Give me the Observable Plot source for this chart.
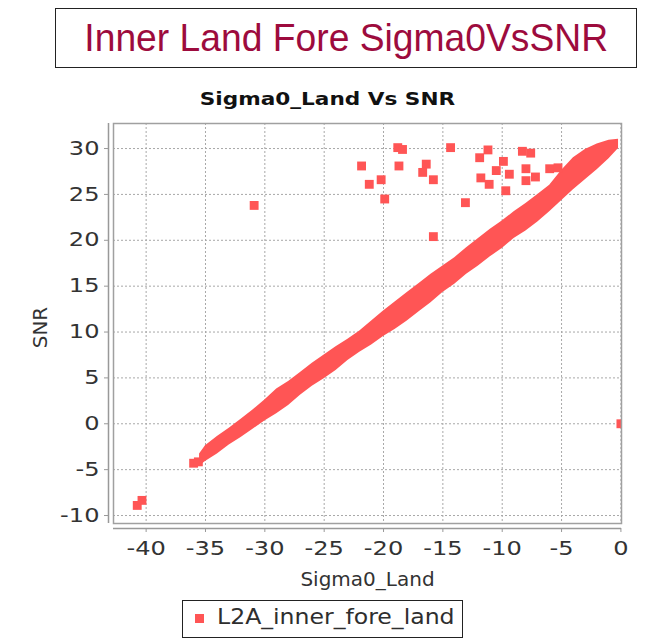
<!DOCTYPE html>
<html>
<head>
<meta charset="utf-8">
<script src="https://cdn.jsdelivr.net/npm/d3@7"></script>
<script src="https://cdn.jsdelivr.net/npm/@observablehq/plot@0.6"></script>
<style>
  html, body { margin: 0; padding: 0; background: #fff; }
  #page { position: relative; width: 661px; height: 641px; overflow: hidden; background: #fff; }
  #titlebox { position: absolute; left: 55px; top: 8px; width: 580px; height: 58px; border: 1px solid #222;
    display: flex; align-items: center; justify-content: center; overflow: hidden; }
  #titlebox span { font-family: "Liberation Sans", Arial, sans-serif; font-size: 39px; color: #9d0b3d;
    display: inline-block; transform: scaleX(0.955); transform-origin: center; white-space: nowrap; }
  #subtitle { position: absolute; left: 0; width: 655px; top: 88px; text-align: center; }
  #subtitle span { display: inline-block; font-family: "DejaVu Sans", sans-serif; font-weight: bold; font-size: 18px;
    color: #111; transform: scaleX(1.2); transform-origin: center; white-space: nowrap; }
  #chart { position: absolute; left: 0; top: 0; }
  #legend { position: absolute; left: 182px; top: 600px; width: 281px; height: 38px; border: 1px solid #222;
    box-sizing: border-box; }
  #legend .sw { position: absolute; left: 12px; top: 13px; width: 9px; height: 9px; background: #FF5555; }
  #legend span { position: absolute; left: 34px; top: 4px; font-family: "DejaVu Sans", sans-serif; font-size: 20.5px;
    color: #2e2e2e; display: inline-block; transform: scaleX(1.15); transform-origin: left center; white-space: nowrap; }
</style>
</head>
<body>
<div id="page">
  <div id="chart"></div>
  <div id="titlebox"><span>Inner Land Fore Sigma0VsSNR</span></div>
  <div id="subtitle"><span>Sigma0_Land Vs SNR</span></div>
  <div id="legend"><div class="sw"></div><span>L2A_inner_fore_land</span></div>
</div>
<script>
// ---- data ----
const xTicks = [-40, -35, -30, -25, -20, -15, -10, -5, 0];
const yTicks = [-10, -5, 0, 5, 10, 15, 20, 25, 30];
const xDomain = [-42.75, 0.05];
const yDomain = [-10.87, 32.73];

// dense diagonal band of points: upper and lower envelope (Sigma0_Land -> SNR)
const bandX     = [-35.5, -35, -34, -33, -32, -31, -30, -29, -28, -27, -26, -25, -24, -23, -22, -21, -20, -19, -18, -17, -16, -15, -14, -13, -12, -11, -10, -9, -8, -7, -6, -5, -4, -3, -2, -1, -0.2];
const bandUpper = [-3.3, -2.4, -1.4, -0.5, 0.5, 1.5, 2.6, 3.8, 4.6, 5.6, 6.6, 7.5, 8.4, 9.2, 10.1, 11.2, 12.3, 13.3, 14.3, 15.3, 16.3, 17.2, 18.1, 19.2, 20.2, 21.2, 22.1, 23.1, 24.0, 25.0, 26.0, 27.6, 29.0, 29.9, 30.5, 30.9, 31.0];
const bandLower = [-4.6, -4.1, -3.3, -2.3, -1.5, -0.6, 0.3, 1.1, 2.0, 3.1, 4.1, 4.9, 5.8, 6.9, 7.8, 8.6, 9.5, 10.3, 11.2, 12.2, 13.2, 14.3, 15.2, 16.3, 17.2, 18.2, 19.1, 20.2, 21.0, 22.0, 23.1, 24.3, 25.5, 26.6, 27.7, 28.9, 30.0];

// isolated points
const pointX = [-40.75, -40.35, -36.0, -35.6, -30.9, -21.85, -21.2, -20.2, -19.9, -18.8, -18.4, -18.7, -16.4, -16.7, -15.8, -15.8, -14.35, -13.1, -11.9, -11.2, -11.8, -11.1, -10.5, -9.9, -9.4, -9.7, -8.3, -7.6, -8.0, -8.0, -7.2, -6.0, -5.3, 0.0];
const pointY = [-8.9, -8.35, -4.3, -4.15, 23.8, 28.1, 26.1, 26.6, 24.5, 30.1, 29.9, 28.1, 28.3, 27.4, 26.6, 20.4, 30.1, 24.1, 29.0, 29.85, 26.8, 26.1, 27.6, 28.6, 27.2, 25.4, 29.7, 29.5, 27.8, 26.5, 26.9, 27.8, 27.9, 0.0];

const seriesColor = "#FF5555";
// ----------------------------------------------

const band = bandX.map((x, i) => ({x, lo: bandLower[i], hi: bandUpper[i]}));
const pts = pointX.map((x, i) => ({x, y: pointY[i]}));
const fmt = d => String(d).replace("\u2212", "-");

const chart = Plot.plot({
  width: 661,
  height: 598,
  marginLeft: 113,
  marginRight: 40,
  marginTop: 123,
  marginBottom: 75,
  style: {fontFamily: "DejaVu Sans, sans-serif", background: "transparent"},
  x: {domain: xDomain},
  y: {domain: yDomain},
  marks: [
    Plot.gridX(xTicks, {stroke: "#a8a8a8", strokeOpacity: 1, strokeDasharray: "2,2"}),
    Plot.gridY(yTicks, {stroke: "#a8a8a8", strokeOpacity: 1, strokeDasharray: "2,2"}),
    Plot.areaY(band, {x: "x", y1: "lo", y2: "hi", fill: seriesColor, clip: true}),
    Plot.dot(pts, {x: "x", y: "y", symbol: "square", r: 5, fill: seriesColor, clip: true}),
    Plot.frame({stroke: "#a0a0a0", strokeWidth: 1.5}),
    Plot.ruleY([yDomain[0]], {dy: 5, stroke: "#999", strokeWidth: 1.5}),
    Plot.ruleX([xDomain[0]], {dx: -5, stroke: "#999", strokeWidth: 1.5}),
    Plot.axisX(xTicks, {anchor: "bottom", dy: 5, tickSize: 4, tickPadding: 9, fontSize: 19, fill: "#333", stroke: "#999", label: null, tickFormat: fmt}),
    Plot.axisY(yTicks, {anchor: "left", dx: -5, tickSize: 4, tickPadding: 5, fontSize: 19, fill: "#333", stroke: "#999", label: null, tickFormat: fmt}),
    Plot.text(["Sigma0_Land"], {frameAnchor: "bottom", dy: 62, fontSize: 20, fill: "#333", ariaLabel: "xtitle"}),
    Plot.text(["SNR"], {frameAnchor: "left", textAnchor: "middle", lineAnchor: "middle", dx: -73, dy: 4, rotate: -90, fontSize: 20, fill: "#333", ariaLabel: "ytitle"})
  ]
});
document.getElementById("chart").appendChild(chart);

// the reference chart image is horizontally stretched: widen text glyphs about their anchor
function stretch(selector, s) {
  chart.querySelectorAll(selector).forEach(t => {
    const tr = t.getAttribute("transform") || "";
    const x = +(t.getAttribute("x") || 0);
    t.setAttribute("transform", `${tr} translate(${x},0) scale(${s},1) translate(${-x},0)`);
  });
}
stretch('g[aria-label="x-axis tick label"] text', 1.27);
stretch('g[aria-label="y-axis tick label"] text', 1.27);
stretch('g[aria-label="xtitle"] text', 1.16);
</script>
</body>
</html>
